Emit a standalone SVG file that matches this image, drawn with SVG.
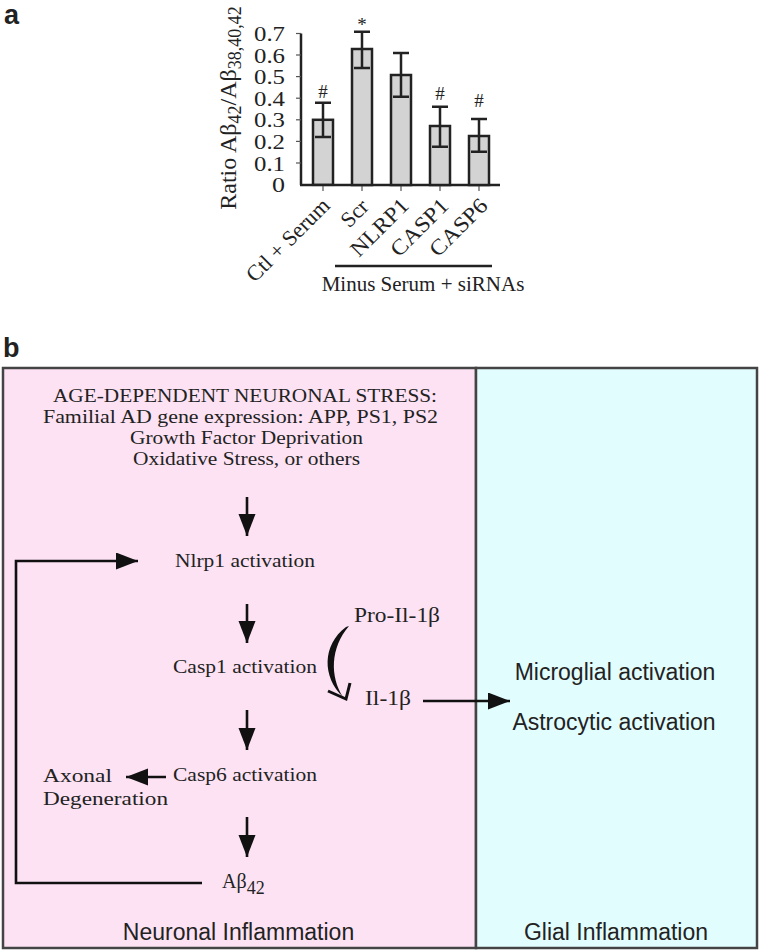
<svg xmlns="http://www.w3.org/2000/svg" width="762" height="952" viewBox="0 0 762 952">
<style>
.serif{font-family:"Liberation Serif","Times New Roman",serif;fill:#222}
.sans{font-family:"Liberation Sans",Arial,sans-serif;fill:#222}
.bar{fill:#d3d3d3;stroke:#222;stroke-width:2.5}
.err{stroke:#222;stroke-width:2.5;fill:none}
.axis{stroke:#222;stroke-width:2.5;fill:none}
.tick{stroke:#555;stroke-width:1.2}
.tl{font-size:20px;text-anchor:end}
.xl{font-size:22px;text-anchor:end}
.mk{font-size:19px;text-anchor:middle}
.t18{font-size:19.5px;text-anchor:middle}
.conn{stroke:#111;stroke-width:2.6;fill:none}
.big{font-size:23px;text-anchor:middle}
</style>
<defs>
<marker id="ah" markerUnits="userSpaceOnUse" markerWidth="24" markerHeight="18" refX="22" refY="8.5" orient="auto">
<path d="M0,0 L22,8.5 L0,17 z" fill="#111"/>
</marker>
</defs>
<rect width="762" height="952" fill="#fff"/>

<!-- Panel a -->
<g id="panel-a">
<text class="sans" x="4" y="24" font-size="27" font-weight="bold">a</text>
<text class="serif" transform="translate(236,108) rotate(-90)" font-size="24" text-anchor="middle">Ratio Aβ<tspan font-size="18" dy="5">42</tspan><tspan dy="-5">/Aβ</tspan><tspan font-size="18" dy="5">38,40,42</tspan></text>
<g id="y-ticks">
<line class="axis" x1="301" y1="33.5" x2="301" y2="185"/>
<line class="axis" x1="300" y1="185" x2="500" y2="185"/>
<line class="tick" x1="296" y1="33.5" x2="301" y2="33.5"/>
<line class="tick" x1="296" y1="55" x2="301" y2="55"/>
<line class="tick" x1="296" y1="76.6" x2="301" y2="76.6"/>
<line class="tick" x1="296" y1="98.2" x2="301" y2="98.2"/>
<line class="tick" x1="296" y1="119.8" x2="301" y2="119.8"/>
<line class="tick" x1="296" y1="141.4" x2="301" y2="141.4"/>
<line class="tick" x1="296" y1="163" x2="301" y2="163"/>
<text class="serif tl" x="285" y="41" textLength="31" lengthAdjust="spacingAndGlyphs">0.7</text>
<text class="serif tl" x="285" y="62.5" textLength="31" lengthAdjust="spacingAndGlyphs">0.6</text>
<text class="serif tl" x="285" y="84" textLength="31" lengthAdjust="spacingAndGlyphs">0.5</text>
<text class="serif tl" x="285" y="105.7" textLength="31" lengthAdjust="spacingAndGlyphs">0.4</text>
<text class="serif tl" x="285" y="127.3" textLength="31" lengthAdjust="spacingAndGlyphs">0.3</text>
<text class="serif tl" x="285" y="149" textLength="31" lengthAdjust="spacingAndGlyphs">0.2</text>
<text class="serif tl" x="285" y="170.5" textLength="31" lengthAdjust="spacingAndGlyphs">0.1</text>
<text class="serif tl" x="285" y="192" textLength="13" lengthAdjust="spacingAndGlyphs">0</text>
<line class="tick" x1="323" y1="186" x2="323" y2="191"/>
<line class="tick" x1="362" y1="186" x2="362" y2="191"/>
<line class="tick" x1="401" y1="186" x2="401" y2="191"/>
<line class="tick" x1="440" y1="186" x2="440" y2="191"/>
<line class="tick" x1="479" y1="186" x2="479" y2="191"/>
</g>
<g id="bar-ctl">
<rect class="bar" x="313" y="119.8" width="20" height="65"/>
<path class="err" d="M323,137 V102.7 M315,102.7 H331 M315,137 H331"/>
<text class="serif mk" x="323" y="98">#</text>
</g>
<g id="bar-scr">
<rect class="bar" x="352" y="49" width="20" height="136"/>
<path class="err" d="M362,68 V31.7 M354,31.7 H370 M354,68 H370"/>
<text class="serif mk" x="362" y="31" font-size="22">*</text>
</g>
<g id="bar-nlrp1">
<rect class="bar" x="391" y="75" width="20" height="110"/>
<path class="err" d="M401,96.7 V53 M393,53 H409 M393,96.7 H409"/>
</g>
<g id="bar-casp1">
<rect class="bar" x="430" y="126" width="20" height="59"/>
<path class="err" d="M440,146.7 V106.7 M432,106.7 H448 M432,146.7 H448"/>
<text class="serif mk" x="440" y="100">#</text>
</g>
<g id="bar-casp6">
<rect class="bar" x="469" y="136" width="20" height="49"/>
<path class="err" d="M479,151.7 V119 M471,119 H487 M471,151.7 H487"/>
<text class="serif mk" x="479" y="107">#</text>
</g>
<g id="x-labels">
<text class="serif xl" transform="translate(331,207) rotate(-45)">Ctl + Serum</text>
<text class="serif xl" transform="translate(370,208) rotate(-45)">Scr</text>
<text class="serif xl" transform="translate(410,207) rotate(-45)" textLength="72" lengthAdjust="spacingAndGlyphs">NLRP1</text>
<text class="serif xl" transform="translate(450,207) rotate(-45)" textLength="72" lengthAdjust="spacingAndGlyphs">CASP1</text>
<text class="serif xl" transform="translate(489,207) rotate(-45)" textLength="72" lengthAdjust="spacingAndGlyphs">CASP6</text>
<line class="axis" x1="335" y1="266" x2="492" y2="266"/>
<text class="serif" x="423" y="291" font-size="21" text-anchor="middle">Minus Serum + siRNAs</text>
</g>
</g>

<!-- Panel b -->
<text class="sans" x="3" y="357" font-size="27" font-weight="bold">b</text>
<g id="neuronal-panel">
<rect x="3" y="368" width="473" height="580" fill="#fde2f4" stroke="#444" stroke-width="2.5"/>
<text class="sans big" x="238.5" y="940">Neuronal Inflammation</text>
</g>
<g id="glial-panel">
<rect x="476" y="368" width="281" height="580" fill="#e2fdfe" stroke="#444" stroke-width="2.5"/>
<text class="sans big" x="616" y="940">Glial Inflammation</text>
</g>

<g id="stress">
<text class="serif t18" x="245" y="402" textLength="384" lengthAdjust="spacingAndGlyphs">AGE-DEPENDENT NEURONAL STRESS:</text>
<text class="serif t18" x="240.5" y="423" textLength="395" lengthAdjust="spacingAndGlyphs">Familial AD gene expression: APP, PS1, PS2</text>
<text class="serif t18" x="246.5" y="444" textLength="233" lengthAdjust="spacingAndGlyphs">Growth Factor Deprivation</text>
<text class="serif t18" x="246.5" y="465" textLength="227" lengthAdjust="spacingAndGlyphs">Oxidative Stress, or others</text>
</g>
<g id="nlrp1">
<text class="serif t18" x="245" y="567" textLength="140" lengthAdjust="spacingAndGlyphs">Nlrp1 activation</text>
</g>
<g id="casp1">
<text class="serif t18" x="245" y="673" textLength="144" lengthAdjust="spacingAndGlyphs">Casp1 activation</text>
</g>
<g id="casp6">
<text class="serif t18" x="245" y="781" textLength="144" lengthAdjust="spacingAndGlyphs">Casp6 activation</text>
</g>
<g id="axonal">
<text class="serif" x="43" y="782" font-size="19.5" textLength="69" lengthAdjust="spacingAndGlyphs">Axonal</text>
<text class="serif" x="43" y="805" font-size="19.5" textLength="125" lengthAdjust="spacingAndGlyphs">Degeneration</text>
</g>
<g id="abeta42">
<text class="serif" x="222" y="888" font-size="20">Aβ<tspan font-size="18" dy="6">42</tspan></text>
</g>
<g id="pro-il1b">
<text class="serif" x="354" y="622" font-size="20" textLength="86" lengthAdjust="spacingAndGlyphs">Pro-Il-1β</text>
</g>
<g id="il1b">
<text class="serif" x="365" y="705" font-size="20" textLength="46" lengthAdjust="spacingAndGlyphs">Il-1β</text>
</g>
<g id="microglial">
<text class="sans big" x="615" y="680">Microglial activation</text>
</g>
<g id="astrocytic">
<text class="sans big" x="614" y="730">Astrocytic activation</text>
</g>

<g id="connectors">
<line class="conn" x1="247" y1="497" x2="247" y2="536" marker-end="url(#ah)" stroke-width="3"/>
<line class="conn" x1="247" y1="604" x2="247" y2="643" marker-end="url(#ah)" stroke-width="3"/>
<line class="conn" x1="247" y1="710" x2="247" y2="750" marker-end="url(#ah)" stroke-width="3"/>
<line class="conn" x1="247" y1="817" x2="247" y2="857" marker-end="url(#ah)" stroke-width="3"/>
<line class="conn" x1="166" y1="777" x2="126" y2="777" marker-end="url(#ah)" stroke-width="3"/>
<path class="conn" d="M202,883 H16 V561 H138" marker-end="url(#ah)"/>
<line class="conn" x1="423" y1="701" x2="510" y2="701" marker-end="url(#ah)"/>
<path d="M346,627 C322,645 322,677 343,697 C330,677 330,648 349,626 Z" fill="#111"/>
<path d="M328,691 L346,699 L350,683" fill="none" stroke="#111" stroke-width="3" stroke-linejoin="miter"/>
</g>
</svg>
